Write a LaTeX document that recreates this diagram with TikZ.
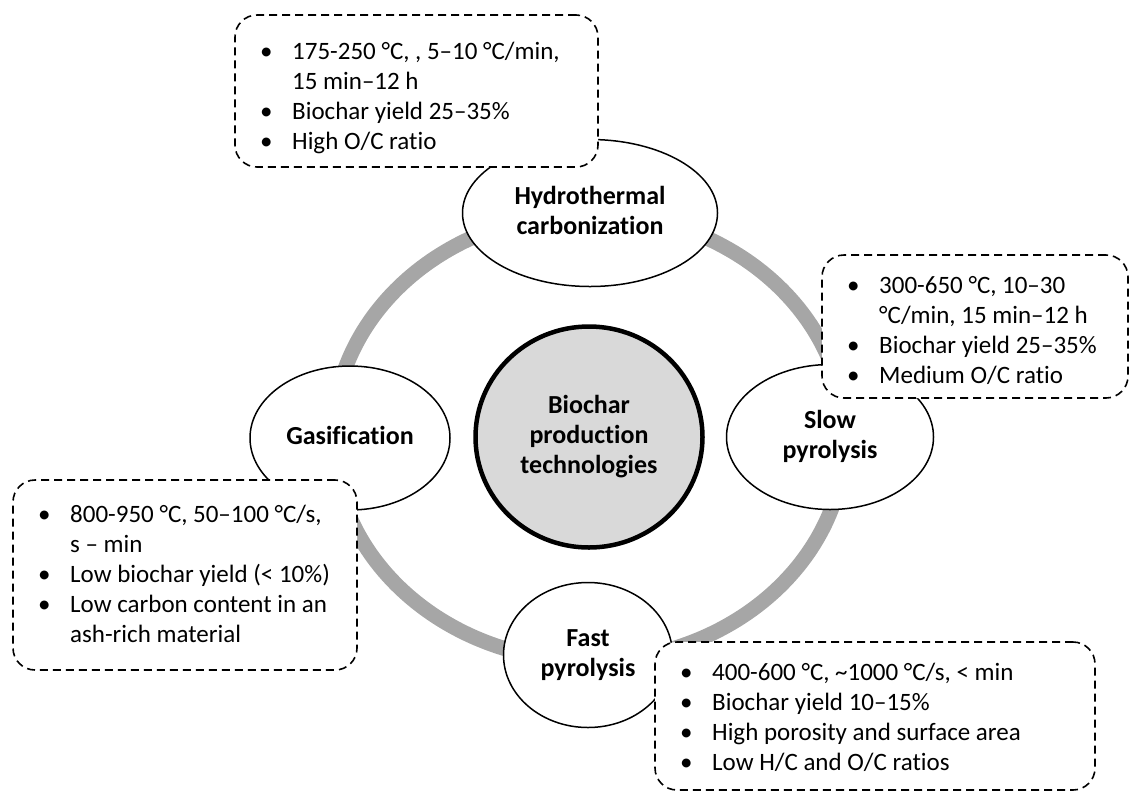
\documentclass[tikz,border=0pt]{standalone}
\usepackage{fontspec}
\setmainfont{Carlito}[RawFeature={-liga;-clig}]
\usetikzlibrary{shapes.geometric}
\definecolor{ringgray}{HTML}{A6A6A6}
\definecolor{hubfill}{HTML}{D9D9D9}
\begin{document}
\begin{tikzpicture}[x=1pt,y=-1pt,
  ring/.style={draw=ringgray, line width=15pt},
  tech/.style={ellipse, draw=black, line width=1.5pt, fill=white, inner sep=0pt, align=center,
    font=\fontsize{26}{30}\selectfont\bfseries},
  hub/.style={ellipse, draw=black, line width=4.5pt, fill=hubfill, inner sep=0pt, align=center,
    font=\fontsize{26}{30}\selectfont\bfseries, minimum width=227pt, minimum height=221pt},
  infobox/.style={draw=black, line width=1.6pt, dash pattern=on 8pt off 5pt, rounded corners=22pt,
    fill=white, inner sep=0pt},
  infotext/.style={anchor=base west, inner sep=0pt, font=\fontsize{25}{30}\selectfont},
]
\useasboundingbox (0,0) rectangle (1131,793);
\coordinate (c) at (589,437);
\draw[ring] (c) ellipse [x radius=256pt, y radius=224pt];

\node[tech, minimum width=255pt, minimum height=147pt] (htc) at (590,213) {\strut Hydrothermal\\carbonization\strut};
\node[tech, minimum width=207pt, minimum height=145pt] (slow) at (830,437) {\strut Slow\\pyrolysis\strut};
\node[tech, minimum width=169pt, minimum height=145pt] (fast) at (588,655) {\strut Fast\\pyrolysis\strut};
\node[tech, minimum width=200pt, minimum height=144pt] (gas) at (350,438) {\strut Gasification\strut};
\node[hub] (hub) at (c) {\strut Biochar\\production\\technologies\strut};

% top box
\node[infobox, minimum width=363pt, minimum height=152pt] (hbox) at (416.5,91) {};
\node[infotext] (htext) at (260,59) {\begin{tabular}[t]{@{}p{32pt}@{}l@{}}
\textbullet & 175-250 °C, , 5–10 °C/min,\\
 & 15 min–12 h\\
\textbullet & Biochar yield 25–35\%\\
\textbullet & High O/C ratio
\end{tabular}};

% right box
\node[infobox, minimum width=306pt, minimum height=143pt] (sbox) at (975,326.5) {};
\node[infotext] (stext) at (847,293) {\begin{tabular}[t]{@{}p{32pt}@{}l@{}}
\textbullet & 300-650 °C, 10–30\\
 & °C/min, 15 min–12 h\\
\textbullet & Biochar yield 25–35\%\\
\textbullet & Medium O/C ratio
\end{tabular}};

% left box
\node[infobox, minimum width=344pt, minimum height=190pt] (gbox) at (185,575) {};
\node[infotext] (gtext) at (38,522) {\begin{tabular}[t]{@{}p{32pt}@{}l@{}}
\textbullet & 800-950 °C, 50–100 °C/s,\\
 & s – min\\
\textbullet & Low biochar yield (\textless{} 10\%)\\
\textbullet & Low carbon content in an\\
 & ash-rich material
\end{tabular}};

% bottom right box
\node[infobox, minimum width=440pt, minimum height=148pt] (fbox) at (875,716) {};
\node[infotext] (ftext) at (680,680) {\begin{tabular}[t]{@{}p{32pt}@{}l@{}}
\textbullet & 400-600 °C, \textasciitilde1000 °C/s, \textless{} min\\
\textbullet & Biochar yield 10–15\%\\
\textbullet & High porosity and surface area\\
\textbullet & Low H/C and O/C ratios
\end{tabular}};
\end{tikzpicture}
\end{document}
